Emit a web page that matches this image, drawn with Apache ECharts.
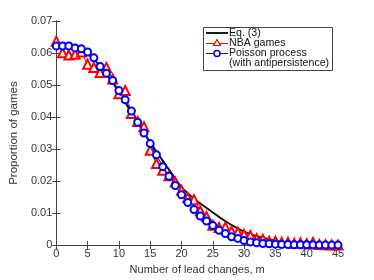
<!DOCTYPE html>
<html>
<head>
<meta charset="utf-8">
<script src="https://cdn.jsdelivr.net/npm/echarts@6/dist/echarts.min.js"></script>
<style>html,body{margin:0;padding:0;background:#fff;}#c{width:374px;height:280px;}</style>
</head>
<body>
<div id="c"></div>
<script>
var xTicks = [0, 5, 10, 15, 20, 25, 30, 35, 40, 45];
var yTicks = [0, 0.01, 0.02, 0.03, 0.04, 0.05, 0.06, 0.07];
var legendNames = ['Eq. (3)', 'NBA games', 'Poisson process', '(with antipersistence)'];

var eqM = [0, 2, 4, 5, 6, 7, 8, 9, 10, 11, 12, 13, 14, 15, 16, 18, 20, 22, 24, 26, 28, 30, 32, 34, 36, 38, 40, 42, 45];
var eqP = [0.0622, 0.0619, 0.0608, 0.0597, 0.0580, 0.0558, 0.0533, 0.0507, 0.0477, 0.0446, 0.0414, 0.0382, 0.0351, 0.0322, 0.0292, 0.0236, 0.0181, 0.0145, 0.0116, 0.0088, 0.0063, 0.0042, 0.0028, 0.0018, 0.0011, 0.0007, 0.0004, 0.0002, 0.0001];

var nbaM = [];
for (var i = 0; i <= 45; i++) nbaM.push(i);
var nbaP = [0.0637, 0.0601, 0.0594, 0.0596, 0.0603, 0.0565, 0.0555, 0.0539, 0.0555, 0.0519,
            0.0473, 0.0483, 0.0411, 0.0386, 0.0370, 0.0296, 0.0255, 0.0234, 0.0217, 0.0197,
            0.0171, 0.0148, 0.0142, 0.0107, 0.0089, 0.0062, 0.0055, 0.0056, 0.0043, 0.0040,
            0.0033, 0.0030, 0.0020, 0.0018, 0.0012, 0.0012, 0.0008, 0.0009, 0.0005, 0.0007,
            0.0004, 0.0008, 0.0002, 0.0001, 0.0000, 0.0000];

var poiM = nbaM;
var poiP = [0.0622, 0.0622, 0.0622, 0.0616, 0.0613, 0.0603, 0.0585, 0.0558, 0.0537, 0.0514,
            0.0483, 0.0454, 0.0419, 0.0384, 0.0350, 0.0317, 0.0282, 0.0245, 0.0215, 0.0186,
            0.0157, 0.0133, 0.0111, 0.0091, 0.0075, 0.0061, 0.0046, 0.0036, 0.0026, 0.0021,
            0.0014, 0.0010, 0.0007, 0.0005, 0.0004, 0.0003, 0.0002, 0.0002, 0.0001, 0.0001,
            0.0001, 0.0001, 0.0000, 0.0000, 0.0000, 0.0000];

function pairs(a, b) { return a.map(function (v, i) { return [v, b[i]]; }); }

var font = 'Liberation Sans, Arial, sans-serif';
var txt = '#333';
var chart = echarts.init(document.getElementById('c'), null, {renderer: 'canvas'});
var axisCommon = {
  axisLine: {show: true, lineStyle: {color: '#444', width: 1}},
  axisTick: {show: true, inside: true, length: 4, lineStyle: {color: '#444'}},
  splitLine: {show: false}
};

var LX = 203, LY = 27;
var legendGraphic = [
  {type: 'rect', shape: {x: LX + 0.5, y: LY + 0.5, width: 129, height: 43},
    style: {fill: '#fff', stroke: '#444', lineWidth: 1}, z: 100},
  {type: 'line', shape: {x1: LX + 3, y1: LY + 6, x2: LX + 25, y2: LY + 6}, style: {stroke: '#000', lineWidth: 1.8}, z: 101},
  {type: 'line', shape: {x1: LX + 3, y1: LY + 16.5, x2: LX + 25, y2: LY + 16.5}, style: {stroke: '#ff0000', lineWidth: 1}, z: 101},
  {type: 'polygon', shape: {points: [[LX + 14, LY + 12.5], [LX + 17.5, LY + 18.5], [LX + 10.5, LY + 18.5]]},
    style: {fill: '#fff', stroke: '#ff0000', lineWidth: 1.2}, z: 102},
  {type: 'line', shape: {x1: LX + 3, y1: LY + 26.5, x2: LX + 25, y2: LY + 26.5}, style: {stroke: '#0000ff', lineWidth: 1}, z: 101},
  {type: 'circle', shape: {cx: LX + 14, cy: LY + 26.5, r: 3}, style: {fill: '#fff', stroke: '#0000ff', lineWidth: 1.5}, z: 102}
];
var rowsY = [6, 16.5, 26.5, 36.5];
legendNames.forEach(function (n, k) {
  legendGraphic.push({type: 'text', x: LX + 26, y: LY + rowsY[k], z: 103,
    style: {text: n, fontFamily: font, fontSize: 10.6, fill: '#111', verticalAlign: 'middle', align: 'left'}});
});

chart.setOption({
  animation: false,
  backgroundColor: '#fff',
  grid: {left: 48, right: 36, top: 21, bottom: 31, containLabel: false},
  xAxis: [
    Object.assign({type: 'value', min: 0, max: 45, interval: 5, position: 'bottom',
      name: 'Number of lead changes, m', nameLocation: 'middle', nameGap: 16,
      nameTextStyle: {fontFamily: font, fontSize: 11, color: txt},
      axisLabel: {fontFamily: font, fontSize: 11, color: txt, margin: 3,
        formatter: function (v) { return xTicks.indexOf(v) >= 0 ? String(v) : ''; }}}, axisCommon),
    Object.assign({type: 'value', min: 0, max: 45, interval: 5, position: 'top',
      axisLabel: {show: false}}, axisCommon)
  ],
  yAxis: [
    Object.assign({type: 'value', min: 0, max: 0.07, interval: 0.01, position: 'left',
      name: 'Proportion of games', nameLocation: 'middle', nameGap: 28,
      nameTextStyle: {fontFamily: font, fontSize: 11.5, color: txt},
      axisLabel: {fontFamily: font, fontSize: 11, color: txt, margin: 4,
        formatter: function (v) { return yTicks.indexOf(+v.toFixed(2)) >= 0 ? String(+v.toFixed(2)) : ''; }}}, axisCommon),
    Object.assign({type: 'value', min: 0, max: 0.07, interval: 0.01, position: 'right',
      axisLabel: {show: false}}, axisCommon)
  ],
  graphic: legendGraphic,
  series: [
    {name: 'Eq. (3)', type: 'line', data: pairs(eqM, eqP), smooth: 0.3, showSymbol: false, symbol: 'none',
      lineStyle: {color: '#000', width: 1.8}, itemStyle: {color: '#000'}, z: 3},
    {name: 'NBA games', type: 'line', data: pairs(nbaM, nbaP), symbol: 'emptyTriangle', symbolSize: 9,
      lineStyle: {color: '#ff0000', width: 1}, itemStyle: {color: '#ff0000', borderColor: '#ff0000', borderWidth: 1.2}, z: 4},
    {name: 'Poisson process (with antipersistence)', type: 'line', data: pairs(poiM, poiP), symbol: 'emptyCircle', symbolSize: 7,
      lineStyle: {color: '#0000ff', width: 1}, itemStyle: {color: '#0000ff', borderColor: '#0000ff', borderWidth: 1.5}, z: 5}
  ]
});
</script>
</body>
</html>
